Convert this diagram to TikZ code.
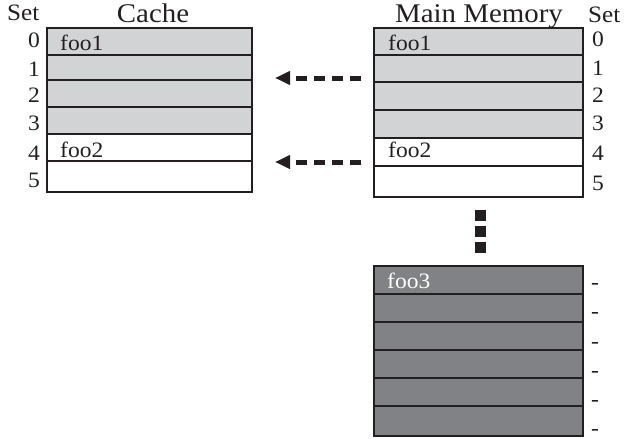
\documentclass[tikz,border=0pt]{standalone}
\usepackage{fontspec}
\setmainfont[FakeStretch=1.07]{Liberation Serif}
\usetikzlibrary{arrows.meta}
\definecolor{lightg}{HTML}{D1D3D4}
\definecolor{darkg}{HTML}{808285}
\definecolor{ink}{HTML}{231F20}
\begin{document}
\begin{tikzpicture}[x=1pt,y=-1pt,
  cell/.style={draw=ink,line width=1.3pt},
  lbl/.style={inner sep=0pt,anchor=base west,font=\fontsize{22}{22}\selectfont,text=ink},
  lblr/.style={lbl,anchor=base east},
  hdr/.style={inner sep=0pt,anchor=base,font=\fontsize{27}{27}\selectfont,text=ink},
  sethdr/.style={inner sep=0pt,anchor=base west,font=\fontsize{23.5}{23.5}\selectfont,text=ink},
  darr/.style={draw=ink,line width=5pt,dash pattern=on 11pt off 7pt,
    -{Triangle[length=15pt,width=13pt]}},
  dot/.style={fill=ink}]
\useasboundingbox (0,0) rectangle (624,439);
% Cache
\foreach \a/\b/\c in {28/55/lightg,55/80/lightg,80/107/lightg,107/134/lightg,134/161/white,161/192/white}
  \draw[cell,fill=\c] (47,\a) rectangle (252,\b);
% Main memory
\foreach \a/\b/\c in {28/55/lightg,55/82/lightg,82/110/lightg,110/138/lightg,138/166/white,166/197/white}
  \draw[cell,fill=\c] (374,\a) rectangle (583,\b);
% Lower memory block
\foreach \a/\b in {266/294,294/322,322/350,350/378,378/406,406/436}
  \draw[cell,fill=darkg] (374,\a) rectangle (583,\b);
% headers
\node[sethdr] (setl) at (7,20) {Set};
\node[hdr] (cachehdr) at (153,23) {Cache};
\node[hdr] (memhdr) at (479,23) {Main Memory};
\node[sethdr] (setr) at (588,23) {Set};
% set numbers left
\foreach \n/\y in {0/47,1/76,2/102,3/130,4/160,5/187}
  \node[lblr] (l\n) at (40,\y) {\n};
% set numbers right
\foreach \n/\y in {0/46,1/75,2/102,3/130,4/160,5/190}
  \node[lbl] (r\n) at (592,\y) {\n};
\foreach \i/\y in {1/289,2/318,3/348,4/377,5/406,6/435}
  \node[lbl] (d\i) at (591,\y) {-};
% contents
\node[lbl] (cf1) at (60,50) {foo1};
\node[lbl] (cf2) at (60,157) {foo2};
\node[lbl] (mf1) at (388,50) {foo1};
\node[lbl] (mf2) at (388,157) {foo2};
\node[lbl,text=white] (mf3) at (387,288) {foo3};
% arrows
\coordinate (a1s) at (361,78);
\coordinate (a1e) at (275,78);
\coordinate (a2s) at (361,162);
\coordinate (a2e) at (275,162);
\draw[darr] (a1s) -- (a1e);
\draw[darr] (a2s) -- (a2e);
% vertical ellipsis
\fill[dot] (475,210) rectangle (486,221);
\fill[dot] (475,226) rectangle (486,237);
\fill[dot] (475,242) rectangle (486,253);
\end{tikzpicture}
\end{document}
